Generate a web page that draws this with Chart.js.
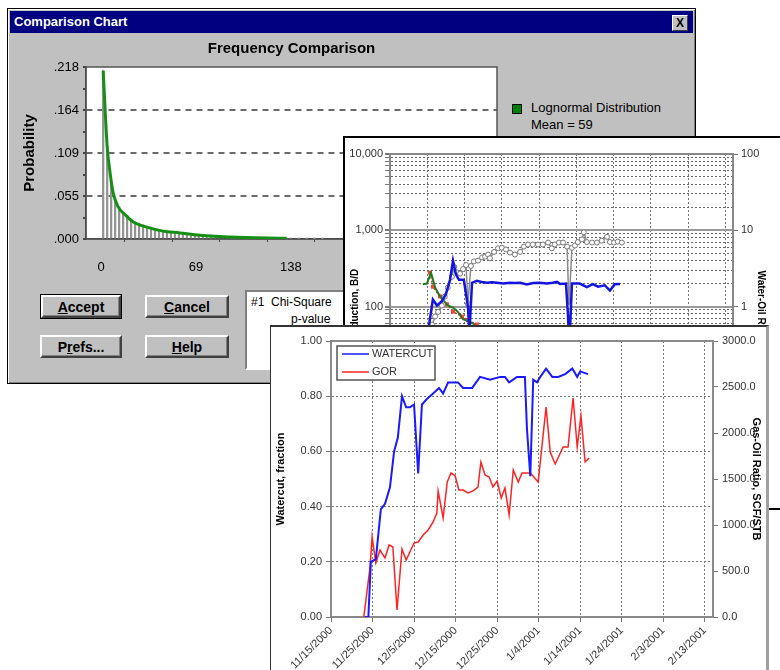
<!DOCTYPE html>
<html>
<head>
<meta charset="utf-8">
<title>Comparison Chart</title>
<script src="https://cdn.jsdelivr.net/npm/chart.js@4.4.1/dist/chart.umd.min.js"></script>
<style>
  html, body { margin: 0; padding: 0; }
  body { width: 780px; height: 670px; overflow: hidden; position: relative; background: #fff;
         font-family: "Liberation Sans", Arial, sans-serif; }
  .abs { position: absolute; box-sizing: border-box; }
  #dlg { left: 7px; top: 8px; width: 689px; height: 376px; background: #c0c0c0;
         border: 1px solid #000; box-shadow: inset 1px 1px #fff, inset -1px -1px #808080; z-index: 1; }
  #dlgTitle { left: 10px; top: 11px; width: 683px; height: 22px; background: #000080; color: #fff;
              font-weight: bold; font-size: 13px; line-height: 22px; padding-left: 4px; z-index: 1; }
  #dlgClose { left: 672px; top: 15px; width: 16px; height: 16px; background: #c0c0c0;
              border: 1px solid; border-color: #fff #404040 #404040 #fff; color: #000;
              font-weight: bold; font-size: 12px; line-height: 14px; text-align: center; z-index: 1; }
  .btn { background: #c0c0c0; border: 2px solid; border-color: #fff #404040 #404040 #fff;
         box-shadow: inset -1px -1px #808080; font-weight: bold; font-size: 14px; color: #000;
         text-align: center; line-height: 20px; z-index: 1; }
  #bAccept { left: 41px; top: 295px; width: 80px; height: 23px; outline: 1px solid #000; }
  #bCancel { left: 145px; top: 295px; width: 84px; height: 23px; }
  #bPrefs  { left: 40px;  top: 335px; width: 82px; height: 23px; }
  #bHelp   { left: 145px; top: 335px; width: 84px; height: 23px; }
  #stats { left: 245px; top: 290px; width: 200px; height: 80px; background: #fff; border: 2px solid;
           border-color: #808080 #fff #fff #808080; font-size: 12px; color: #000; z-index: 1; }
  #legSwatch { left: 512px; top: 104px; width: 10px; height: 10px; background: #008000;
               border: 1px solid #000; z-index: 1; }
  .legText { font-size: 13px; color: #000; z-index: 1; white-space: nowrap; }
  #c1 { left: 10px; top: 36px; z-index: 1; }
  #mid { left: 343px; top: 136px; width: 460px; height: 374px; background: #fff;
         border: 2px solid #000; z-index: 2; }
  #c2 { left: 345px; top: 138px; z-index: 2; }
  #front { left: 270px; top: 325px; width: 499px; height: 360px; background: #fff;
           border-left: 1px solid #333; border-top: 2px solid #333; border-right: 3px solid #a0a0a0; z-index: 3; }
  #c3 { left: 271px; top: 327px; z-index: 3; }
</style>
</head>
<body>
<div id="dlg" class="abs"></div>
<div id="dlgTitle" class="abs">Comparison Chart</div>
<div id="dlgClose" class="abs">X</div>
<canvas id="c1" class="abs" width="500" height="250"></canvas>
<div id="legSwatch" class="abs"></div>
<div class="abs legText" style="left:531px; top:100px;">Lognormal Distribution</div>
<div class="abs legText" style="left:531px; top:117px;">Mean = 59</div>
<div id="bAccept" class="abs btn"><u>A</u>ccept</div>
<div id="bCancel" class="abs btn"><u>C</u>ancel</div>
<div id="bPrefs" class="abs btn">P<u>r</u>efs...</div>
<div id="bHelp" class="abs btn"><u>H</u>elp</div>
<div id="stats" class="abs">
  <div style="position:absolute; left:4px; top:3px;">#1&nbsp;&nbsp;Chi-Square</div>
  <div style="position:absolute; left:44px; top:20px;">p-value</div>
</div>

<div id="mid" class="abs"></div>
<canvas id="c2" class="abs" width="425" height="370"></canvas>

<div id="front" class="abs"></div>
<canvas id="c3" class="abs" width="496" height="343"></canvas>

<script>
// === FREQUENCY COMPARISON (dialog) ===
const freqBinX = [1.5, 4.4, 7.3, 10.2, 13.1, 16.0, 18.9, 21.8, 24.7, 27.6, 30.5, 33.4, 36.3, 39.2, 42.1, 45.0,
                  47.9, 50.8, 53.7, 56.6, 59.5, 62.4, 65.3, 68.2, 71.1, 74.0, 76.9, 79.8, 82.7, 85.6, 88.5, 91.4,
                  94.3, 97.2, 100.1, 103.0, 105.9, 108.8, 111.7, 114.6, 117.5, 120.4, 123.3, 126.2, 129.1, 132.0,
                  134.9, 137.8, 143.6, 149.4, 155.2, 161.0];
const freqBinP = [.214, .118, .072, .052, .041, .034, .030, .025, .022, .020, .018, .016, .014, .013, .012, .011,
                  .010, .009, .009, .008, .007, .007, .006, .006, .005, .005, .004, .005, .004, .003, .003, .003,
                  .003, .002, .002, .003, .002, .002, .002, .002, .002, .001, .002, .001, .001, .001,
                  .001, .001, .0007, .0007, .0005, .0005];
const curveX = [1.5, 2.9, 4.4, 6.5, 8.7, 12.3, 17.4, 23.2, 33.4, 45.0, 57.4, 69.7, 93.7, 135.0];
const curveP = [.213, .164, .117, .084, .059, .041, .031, .022, .015, .010, .0077, .005, .0026, .0008];
const freqXTicks = [0, 69, 138, 207, 276];
const freqYTicks = [0, .0545, .109, .1635, .218];
const freqYText = ['.000', '.055', '.109', '.164', '.218'];

// === PRODUCTION / WOR (middle window), days since 11/15/2000 ===
const liquidDays = [10.0, 11.5, 12.6, 13.9, 15.0, 16.1, 16.9, 17.7, 18.5, 19.8, 20.9, 21.3, 22.0, 23.3, 24.6, 26.0,
                    27.4, 28.7, 30.4, 32.2, 33.5, 34.9, 36.7, 38.4, 40.2, 42.0, 43.7, 44.8, 45.6, 47.2, 47.7, 48.1,
                    48.8, 50.9, 52.8, 54.4, 55.8, 57.6, 59.0, 60.3, 61.7];
const liquidRate = [40, 123, 103, 117, 145, 224, 400, 262, 224, 224, 100, 45, 205, 218, 210, 205,
                    208, 205, 200, 205, 203, 205, 194, 203, 205, 200, 205, 210, 198, 200, 83, 30,
                    200, 200, 179, 196, 182, 190, 162, 196, 198];
const worDays = [11.3, 12.1, 12.9, 13.9, 14.7, 15.5, 16.6, 17.2, 18.0, 18.8, 19.6, 20.4, 20.9, 21.7, 22.5, 23.6,
                 24.7, 25.5, 26.3, 26.8, 27.9, 29.0, 30.0, 31.1, 32.2, 33.5, 34.9, 35.9, 37.0, 38.3, 39.7, 41.0,
                 42.4, 43.4, 44.2, 45.3, 46.4, 47.5, 48.0, 48.8, 49.6, 50.4, 51.5, 52.0, 52.8, 54.2, 55.5, 56.8,
                 58.2, 59.0, 60.1, 61.1, 62.2];
const worRatio = [0.58, 0.74, 0.85, 1.03, 1.35, 1.77, 2.45, 3.3, 2.8, 2.7, 3.1, 3.5, 1.07, 3.4, 3.9, 4.0,
                  4.4, 4.5, 4.8, 4.3, 5.2, 5.8, 5.9, 5.6, 5.1, 4.8, 5.2, 6.1, 6.5, 6.5, 6.5, 6.5,
                  6.9, 5.8, 6.5, 6.9, 6.9, 6.1, 1.0, 5.9, 6.3, 7.0, 7.6, 9.4, 7.0, 6.9, 6.9, 7.3,
                  8.2, 7.0, 6.9, 7.1, 6.9];
const oilDays = [8.8, 9.9, 11.0, 12.1, 13.1, 14.2, 15.5, 16.9, 18.2, 19.6, 21.4, 22.8];
const oilRate = [195, 200, 277, 177, 144, 123, 103, 97, 85, 68, 63, 58];
const declineDays = [10.7, 11.5, 13.4, 15.3, 16.9, 19.3, 20.9, 23.3];
const declineRate = [277, 182, 135, 107, 86, 74, 66, 58];
const prodTickValues = [1, 10, 100, 1000, 10000];
const prodTickText = ['1', '10', '100', '1,000', '10,000'];
const worTickValues = [0.01, 0.1, 1, 10, 100];
const worTickText = ['0.01', '0.1', '1', '10', '100'];

// === WATERCUT / GOR (front window) ===
const wcDays = [8.2, 9.0, 9.6, 10.8, 12.0, 13.0, 14.2, 15.2, 16.1, 17.1, 18.1, 19.0, 20.0, 21.0, 21.9, 23.1,
                24.6, 26.0, 27.0, 28.2, 30.6, 31.8, 34.0, 35.9, 38.3, 40.7, 41.9, 42.9, 44.8, 46.7, 47.2, 48.0,
                48.7, 49.6, 50.4, 51.8, 53.3, 54.7, 56.4, 58.1, 59.3, 60.0, 61.9];
const watercut = [0, 0, 0.20, 0.21, 0.39, 0.41, 0.47, 0.60, 0.65, 0.80, 0.76, 0.76, 0.77, 0.52, 0.77, 0.79,
                  0.81, 0.83, 0.81, 0.85, 0.85, 0.83, 0.83, 0.87, 0.86, 0.87, 0.87, 0.85, 0.87, 0.87, 0.68, 0.51,
                  0.86, 0.85, 0.87, 0.90, 0.87, 0.87, 0.88, 0.90, 0.87, 0.89, 0.88];
const gorDays = [7.9, 9.4, 9.9, 10.8, 11.8, 13.0, 14.0, 14.9, 15.9, 17.1, 18.1, 19.0, 20.0, 21.0, 22.2, 23.4,
                 24.6, 25.5, 25.8, 27.0, 28.0, 28.9, 29.9, 30.8, 31.8, 33.0, 34.2, 35.4, 36.1, 37.1, 38.1, 39.0,
                 40.0, 41.0, 41.9, 42.9, 43.9, 45.1, 46.0, 47.0, 48.0, 49.9, 51.8, 52.8, 54.0, 55.9, 57.1, 58.3,
                 59.3, 60.2, 61.2, 62.2];
const gor = [0, 543, 870, 587, 728, 641, 783, 761, 76, 739, 620, 707, 804, 815, 891, 946,
             1033, 1130, 1370, 1076, 1467, 1565, 1533, 1380, 1380, 1348, 1370, 1413, 1685, 1543, 1522, 1413,
             1478, 1293, 1402, 1109, 1598, 1467, 1565, 1565, 1565, 1467, 2283, 1793, 1663, 1848, 1848, 2380,
             1848, 2185, 1685, 1728];
const wcTickValues = [0, 0.2, 0.4, 0.6, 0.8, 1.0];
const wcTickText = ['0.00', '0.20', '0.40', '0.60', '0.80', '1.00'];
const gorTickValues = [0, 500, 1000, 1500, 2000, 2500, 3000];
const gorTickText = ['0.0', '500.0', '1000.0', '1500.0', '2000.0', '2500.0', '3000.0'];
const dateTickDays = [0, 10, 20, 30, 40, 50, 60, 70, 80, 90];
const dateTickText = ['11/15/2000', '11/25/2000', '12/5/2000', '12/15/2000', '12/25/2000',
                      '1/4/2001', '1/14/2001', '1/24/2001', '2/3/2001', '2/13/2001'];

Chart.defaults.font.family = '"Liberation Sans", Arial, sans-serif';
Chart.defaults.animation = false;

function pts(xs, ys) {
    return xs.map((x, i) => ({ x: x, y: ys[i] }));
}

// white plot background + box round the plot area
const plotFrame = {
    id: 'plotFrame',
    beforeDraw(chart, args, opts) {
        if (!opts.fill) return;
        const a = chart.chartArea, ctx = chart.ctx;
        ctx.save();
        ctx.fillStyle = opts.fill;
        ctx.fillRect(a.left, a.top, a.right - a.left, a.bottom - a.top);
        ctx.restore();
    },
    beforeDatasetsDraw(chart, args, opts) {
        const a = chart.chartArea, ctx = chart.ctx;
        ctx.save();
        ctx.strokeStyle = opts.color;
        ctx.lineWidth = opts.width;
        ctx.strokeRect(a.left, a.top, a.right - a.left, a.bottom - a.top);
        ctx.restore();
    }
};

// boxed legend inside the plot (front chart)
const boxLegend = {
    id: 'boxLegend',
    afterDraw(chart, args, opts) {
        const a = chart.chartArea, ctx = chart.ctx;
        const x = a.left + opts.x, y = a.top + opts.y;
        ctx.save();
        ctx.fillStyle = '#fff';
        ctx.fillRect(x, y, opts.w, opts.h);
        ctx.strokeStyle = '#555';
        ctx.lineWidth = 1.5;
        ctx.strokeRect(x, y, opts.w, opts.h);
        ctx.font = '11px "Liberation Sans", Arial, sans-serif';
        ctx.textBaseline = 'middle';
        chart.data.datasets.forEach((ds, i) => {
            const ly = y + 8 + i * 18;
            ctx.strokeStyle = ds.borderColor;
            ctx.lineWidth = 1.5;
            ctx.beginPath();
            ctx.moveTo(x + 5, ly);
            ctx.lineTo(x + 32, ly);
            ctx.stroke();
            ctx.fillStyle = '#333';
            ctx.fillText(ds.label, x + 35, ly);
        });
        ctx.restore();
    }
};

function withMidTicks(values) {
    const t = [];
    values.forEach((v, i) => {
        t.push({ value: v });
        if (i < values.length - 1) t.push({ value: (v + values[i + 1]) / 2 });
    });
    return t;
}

function dateAxis(height) {
    return {
        type: 'linear', min: 0, max: 92,
        afterBuildTicks: s => { s.ticks = dateTickDays.map(v => ({ value: v })); },
        afterFit: s => { s.height = height; },
        grid: { color: '#777', lineWidth: 1, tickLength: 5, tickColor: '#777' },
        border: { color: '#888', width: 2, dash: [2, 2] },
        ticks: {
            autoSkip: false, maxRotation: 45, minRotation: 45, padding: 2,
            color: '#333', font: { size: 11 },
            callback: (v, i) => dateTickText[i]
        }
    };
}

// === CHART 1: FREQUENCY COMPARISON ===
new Chart(document.getElementById('c1'), {
    type: 'bar',
    data: {
        datasets: [
            { type: 'line', label: 'Lognormal Distribution', data: pts(curveX, curveP),
              borderColor: '#159015', borderWidth: 3, pointRadius: 0,
              cubicInterpolationMode: 'monotone', order: 0 },
            { type: 'bar', label: 'Frequency', data: pts(freqBinX, freqBinP),
              backgroundColor: '#939393', barThickness: 1.6, order: 1 }
        ]
    },
    options: {
        responsive: false,
        layout: { padding: { right: 13 } },
        plugins: {
            legend: { display: false },
            tooltip: { enabled: false },
            title: { display: true, text: 'Frequency Comparison', fullSize: false, color: '#000',
                     font: { size: 15, weight: 'bold' }, padding: { top: 4, bottom: 9 } },
            plotFrame: { color: '#555', width: 1.5, fill: '#fff' }
        },
        scales: {
            x: {
                type: 'linear', min: -11, max: 288, offset: false,
                afterBuildTicks: s => { s.ticks = withMidTicks(freqXTicks); },
                afterFit: s => { s.height = 47; },
                grid: { drawOnChartArea: false, tickLength: 3, tickColor: '#444' },
                border: { color: '#333', width: 1.5 },
                ticks: { autoSkip: false, maxRotation: 0, padding: 18, color: '#000', font: { size: 13 },
                         callback: (v, i) => i % 2 ? '' : String(freqXTicks[i / 2]) }
            },
            y: {
                min: 0, max: 0.218,
                afterBuildTicks: s => { s.ticks = withMidTicks(freqYTicks); },
                afterFit: s => { s.width = 76; },
                grid: { color: c => (c.index % 2 === 0 && c.index > 0 && c.index < 8) ? '#6a6a6a' : 'rgba(0,0,0,0)',
                        lineWidth: 2, tickLength: 3, tickColor: '#444' },
                border: { color: '#333', width: 1.5, dash: [6, 5] },
                ticks: { autoSkip: false, padding: 4, color: '#000', font: { size: 13 },
                         callback: (v, i) => i % 2 ? '' : freqYText[i / 2] },
                title: { display: true, text: 'Probability', color: '#000',
                         font: { size: 15, weight: 'bold' }, padding: { top: 11, bottom: 0 } }
            }
        }
    },
    plugins: [plotFrame]
});

// === CHART 2: PRODUCTION AND WATER-OIL RATIO ===
const isDecade = v => prodTickValues.includes(v);
new Chart(document.getElementById('c2'), {
    type: 'line',
    data: {
        datasets: [
            { label: 'Liquid', data: pts(liquidDays, liquidRate), yAxisID: 'y',
              borderColor: '#1414e0', borderWidth: 2.5, pointRadius: 0, tension: 0 },
            { label: 'WOR', data: pts(worDays, worRatio), yAxisID: 'y1',
              borderColor: '#8c8c8c', borderWidth: 1.5, pointRadius: 2.5, pointBorderWidth: 1,
              pointBackgroundColor: '#fff', pointBorderColor: '#777', tension: 0 },
            { label: 'Oil', data: pts(oilDays, oilRate), yAxisID: 'y',
              borderColor: '#1c7c1c', borderWidth: 2, pointRadius: 0, tension: 0 },
            { label: 'Decline', data: pts(declineDays, declineRate), yAxisID: 'y',
              borderColor: '#e83030', borderWidth: 1.5, borderDash: [2, 2], pointRadius: 1.8,
              pointStyle: 'rect', pointBackgroundColor: '#ff4040', pointBorderColor: '#ff4040', tension: 0 }
        ]
    },
    options: {
        responsive: false,
        layout: { padding: { top: 16 } },
        plugins: {
            legend: { display: false },
            tooltip: { enabled: false },
            plotFrame: { color: '#888', width: 2 }
        },
        scales: {
            x: dateAxis(49),
            y: {
                type: 'logarithmic', position: 'left', min: 1, max: 10000,
                afterBuildTicks: s => {
                    const t = [];
                    prodTickValues.forEach((d, i) => {
                        t.push({ value: d });
                        if (i < prodTickValues.length - 1) {
                            for (let k = 2; k <= 9; k++) t.push({ value: d * k });
                        }
                    });
                    s.ticks = t;
                },
                afterFit: s => { s.width = 45; },
                grid: { color: c => (c.tick && isDecade(c.tick.value)) ? '#9a9a9a' : '#666',
                        lineWidth: c => (c.tick && isDecade(c.tick.value)) ? 2 : 1,
                        tickLength: 5, tickColor: '#777' },
                border: { color: '#888', width: 2,
                          dash: c => (c.tick && isDecade(c.tick.value)) ? [] : [2, 2] },
                ticks: { autoSkip: false, padding: 2, color: '#333', font: { size: 11 },
                         callback: v => { const k = prodTickValues.indexOf(v); return k < 0 ? '' : prodTickText[k]; } },
                title: { display: true, text: 'Production, B/D', color: '#000',
                         font: { size: 10, weight: 'bold' }, padding: { top: 4, bottom: 0 } }
            },
            y1: {
                type: 'logarithmic', position: 'right', min: 0.01, max: 100,
                afterBuildTicks: s => { s.ticks = worTickValues.map(v => ({ value: v })); },
                afterFit: s => { s.width = 37; },
                grid: { drawOnChartArea: false, tickLength: 5, tickColor: '#777' },
                border: { color: '#888', width: 2 },
                ticks: { autoSkip: false, padding: 3, color: '#333', font: { size: 11 },
                         callback: (v, i) => worTickText[i] },
                title: { display: true, text: 'Water-Oil Ratio', color: '#000',
                         font: { size: 10, weight: 'bold' }, padding: { top: 3, bottom: 0 } }
            }
        }
    },
    plugins: [plotFrame]
});

// === CHART 3: WATERCUT AND GOR ===
new Chart(document.getElementById('c3'), {
    type: 'line',
    data: {
        datasets: [
            { label: 'WATERCUT', data: pts(wcDays, watercut), yAxisID: 'y',
              borderColor: '#1a1aff', borderWidth: 2, pointRadius: 0, tension: 0 },
            { label: 'GOR', data: pts(gorDays, gor), yAxisID: 'y1',
              borderColor: '#ff2222', borderWidth: 1.5, pointRadius: 0, tension: 0 }
        ]
    },
    options: {
        responsive: false,
        layout: { padding: { top: 14 } },
        plugins: {
            legend: { display: false },
            tooltip: { enabled: false },
            plotFrame: { color: '#8a8a8a', width: 2 },
            boxLegend: { x: 6, y: 5, w: 98, h: 34 }
        },
        scales: {
            x: dateAxis(53),
            y: {
                min: 0, max: 1,
                afterBuildTicks: s => { s.ticks = wcTickValues.map(v => ({ value: v })); },
                afterFit: s => { s.width = 60; },
                grid: { color: '#777', lineWidth: 1, tickLength: 5, tickColor: '#777' },
                border: { color: '#888', width: 2, dash: [2, 2] },
                ticks: { autoSkip: false, padding: 4, color: '#333', font: { size: 11 },
                         callback: (v, i) => wcTickText[i] },
                title: { display: true, text: 'Watercut, fraction', color: '#000',
                         font: { size: 11, weight: 'bold' }, padding: { top: 3, bottom: 0 } }
            },
            y1: {
                position: 'right', min: 0, max: 3000,
                afterBuildTicks: s => { s.ticks = gorTickValues.map(v => ({ value: v })); },
                afterFit: s => { s.width = 54; },
                grid: { drawOnChartArea: false, tickLength: 5, tickColor: '#777' },
                border: { color: '#888', width: 2 },
                ticks: { autoSkip: false, padding: 4, color: '#333', font: { size: 11 },
                         callback: (v, i) => gorTickText[i] },
                title: { display: true, text: 'Gas-Oil Ratio, SCF/STB', color: '#000',
                         font: { size: 11, weight: 'bold' }, padding: { top: 4, bottom: 0 } }
            }
        }
    },
    plugins: [plotFrame, boxLegend]
});
</script>
</body>
</html>
